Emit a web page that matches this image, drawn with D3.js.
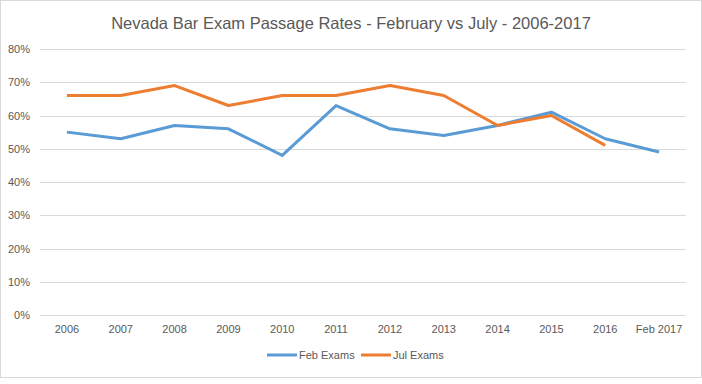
<!DOCTYPE html>
<html><head><meta charset="utf-8">
<script src="https://cdn.jsdelivr.net/npm/d3@7"></script>
<style>body{margin:0;background:#fff;} svg{display:block;}</style>
</head><body>
<svg id="c" width="702" height="384"></svg>
<script>
const categories = ["2006","2007","2008","2009","2010","2011","2012","2013","2014","2015","2016","Feb 2017"];
const febExams = [55,53,57,56,48,63,56,54,57,61,53,49];
const julExams = [66,66,69,63,66,66,69,66,57,60,51,null];
const yTicks = [0,10,20,30,40,50,60,70,80];
const title = "Nevada Bar Exam Passage Rates - February vs July - 2006-2017";

const svg = d3.select("#c");
const font = "'Liberation Sans', Arial, sans-serif";
svg.append("rect").attr("x",0.5).attr("y",0.5).attr("width",701).attr("height",377)
  .attr("fill","#fff").attr("stroke","#d9d9d9");

const x = d3.scaleBand().domain(categories).range([40,686]);
const y = d3.scaleLinear().domain([0,80]).range([315,49]);

const t = svg.append("text").attr("x",351).attr("y",29).attr("text-anchor","middle")
  .attr("font-family",font).attr("font-size",16.5).attr("fill","#595959").text(title);

const grid = svg.append("g");
grid.selectAll("line").data(yTicks).join("line")
  .attr("x1",40).attr("x2",686).attr("y1",d=>Math.round(y(d))+0.5).attr("y2",d=>Math.round(y(d))+0.5)
  .attr("stroke","#d9d9d9").attr("stroke-width",1);

const yAxis = svg.append("g").attr("transform","translate(40,0)")
  .call(d3.axisLeft(y).tickValues(yTicks).tickFormat(d=>d+"%").tickSize(0).tickPadding(10));
yAxis.select(".domain").remove();
yAxis.selectAll("text").attr("font-family",font).attr("font-size",11).attr("fill","#595959");

const xAxis = svg.append("g").attr("transform","translate(0,315)")
  .call(d3.axisBottom(x).tickSize(0).tickPadding(10));
xAxis.select(".domain").remove();
xAxis.selectAll("text").attr("font-family",font).attr("font-size",11).attr("fill","#595959");

const line = d3.line().defined(d=>d.v!=null).x(d=>x(d.c)+x.bandwidth()/2).y(d=>y(d.v));
const series = [
  {name:"Feb Exams", values:febExams, color:"#5B9BD5"},
  {name:"Jul Exams", values:julExams, color:"#ED7D31"}
];
series.forEach(s=>{
  svg.append("path").datum(categories.map((c,i)=>({c,v:s.values[i]})))
    .attr("d",line).attr("fill","none").attr("stroke",s.color).attr("stroke-width",3)
    .attr("stroke-linejoin","round").attr("stroke-linecap","butt");
});

const legX = [267, 361];
series.forEach((s,i)=>{
  const g = svg.append("g").attr("transform",`translate(${legX[i]},355)`);
  g.append("line").attr("x1",0).attr("x2",30).attr("stroke",s.color).attr("stroke-width",3);
  g.append("text").attr("x",32).attr("y",4).attr("font-family",font).attr("font-size",11)
    .attr("fill","#595959").text(s.name);
});
</script>
</body></html>
